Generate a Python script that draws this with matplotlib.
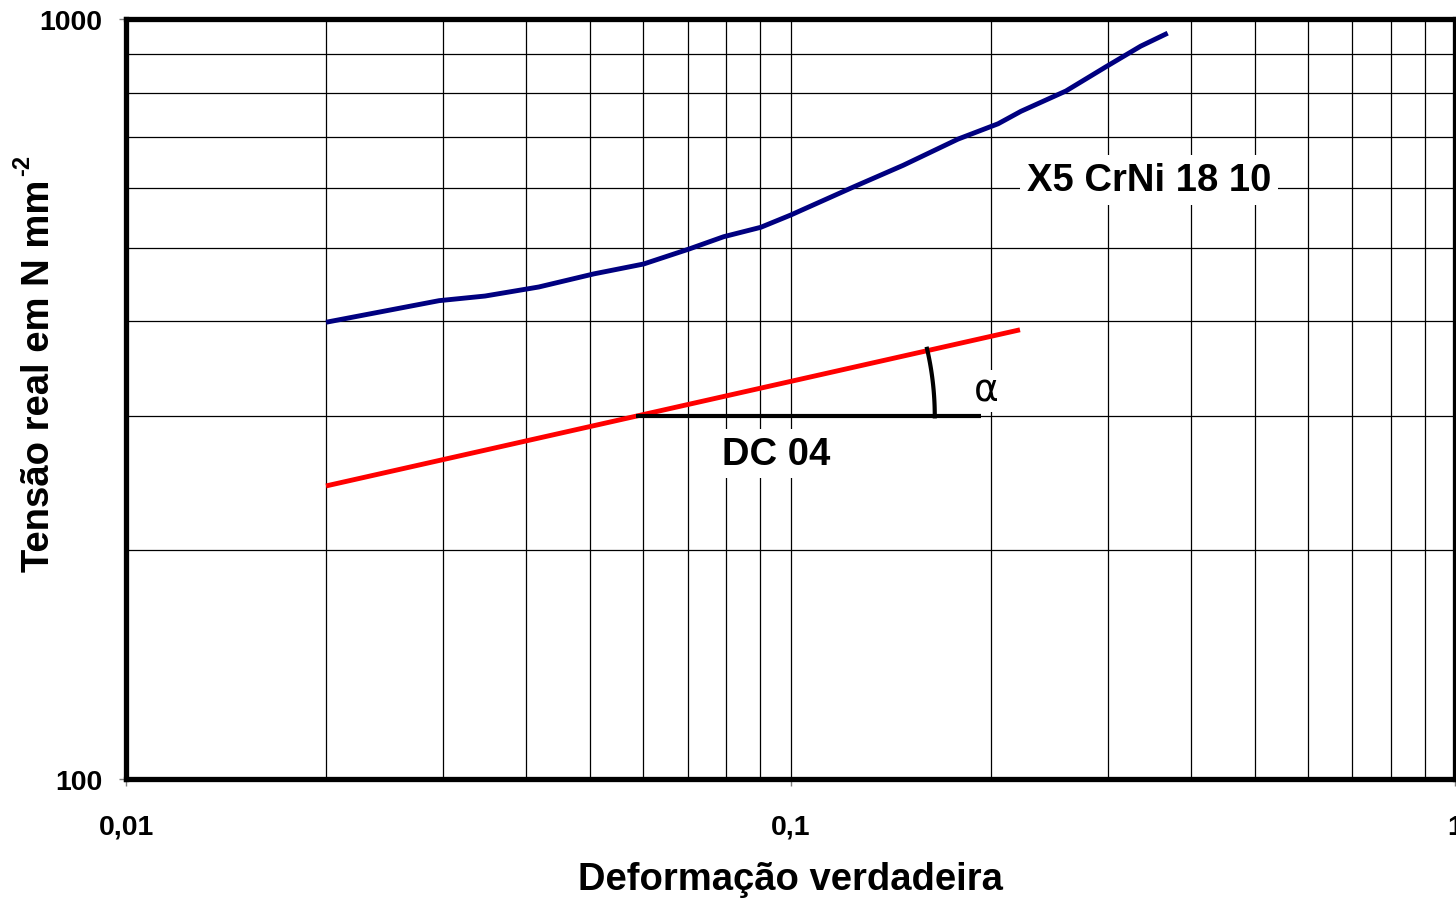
import numpy as np
import matplotlib
matplotlib.use('Agg')
import matplotlib.pyplot as plt
from matplotlib.ticker import NullFormatter

plt.rcParams['font.family'] = ['Liberation Sans', 'DejaVu Sans']

# Curves (true strain, true stress in N/mm2)
x5_strain = [0.02, 0.0296, 0.0347, 0.0418, 0.0506, 0.0601, 0.0703, 0.0793, 0.0902,
             0.1, 0.1243, 0.1478, 0.1787, 0.2053, 0.2222, 0.2597, 0.2982, 0.3365, 0.3695]
x5_stress = [399, 426, 432, 444, 462, 476, 498, 517, 532,
             552, 601, 642, 695, 728, 756, 804, 865, 921, 958]

dc04_strain = [0.02, 0.2215]
dc04_stress = [243, 390]

# horizontal reference line for the angle alpha
ref_strain = [0.0585, 0.1936]
ref_stress = [300, 300]

xticks = [0.01, 0.1, 1]
xticklabels = ['0,01', '0,1', '1']
yticks = [100, 1000]
yticklabels = ['100', '1000']

W, H = 1456, 904
fig = plt.figure(figsize=(W / 100, H / 100), dpi=100)
ax = fig.add_axes([126 / W, (H - 780) / H, 1329 / W, 760 / H])
ax.set_xscale('log')
ax.set_yscale('log')
ax.set_xlim(0.01, 1)
ax.set_ylim(100, 1000)

ax.grid(which='both', color='black', linewidth=0.9)
ax.set_axisbelow(True)

ax.plot(x5_strain, x5_stress, color='#000080', linewidth=3.5, solid_capstyle='butt')
ax.plot(dc04_strain, dc04_stress, color='#ff0000', linewidth=3.5, solid_capstyle='butt')
ax.plot(ref_strain, ref_stress, color='black', linewidth=3.0, solid_capstyle='butt')

# arc marking the angle, drawn in pixel space then mapped back to log data
px_x = 1329 / 2.0   # pixels per decade in x
px_y = 760 / 1.0    # pixels per decade in y
slope = (np.log10(dc04_stress[1]) - np.log10(dc04_stress[0])) / \
        (np.log10(dc04_strain[1]) - np.log10(dc04_strain[0]))
ang = np.arctan(slope * px_y / px_x)
t = np.linspace(0, ang * 1.03, 40)
R = 299
arc_x = ref_strain[0] * 10 ** (R * np.cos(t) / px_x)
arc_y = ref_stress[0] * 10 ** (R * np.sin(t) / px_y)
ax.plot(arc_x, arc_y, color='black', linewidth=3.0)

box = dict(facecolor='white', edgecolor='none', pad=5)
ax.text(0.3465, 614, 'X5 CrNi 18 10', fontsize=27.5, fontweight='bold',
        ha='center', va='center', bbox=box)
ax.text(0.0953, 268, 'DC 04', fontsize=27.5, fontweight='bold',
        ha='center', va='center', bbox=box)
ax.text(0.197, 324, 'α', fontsize=27, ha='center', va='center',
        family='DejaVu Sans', bbox=dict(facecolor='white', edgecolor='none', pad=2))

ax.set_xticks(xticks)
ax.set_xticklabels(xticklabels)
ax.set_yticks(yticks)
ax.set_yticklabels(yticklabels)
ax.xaxis.set_minor_formatter(NullFormatter())
ax.yaxis.set_minor_formatter(NullFormatter())
ax.tick_params(which='minor', length=0)
ax.tick_params(which='major', length=5, width=1, color='gray', labelsize=20.5)
ax.tick_params(axis='x', pad=20)
ax.tick_params(axis='y', pad=12)
for lab in ax.get_xticklabels() + ax.get_yticklabels():
    lab.set_fontweight('bold')

for s in ax.spines.values():
    s.set_linewidth(3.8)
    s.set_color('black')

ax.set_xlabel('Deformação verdadeira', fontsize=27.5, fontweight='bold')
ax.xaxis.set_label_coords(0.5, -0.108)
ax.set_ylabel('Tensão real em N mm', fontsize=27.5, fontweight='bold', va='center')
ax.yaxis.set_label_coords(-0.0655, 0.5316)
ax.text(-0.0775, 0.809, '-2', transform=ax.transAxes, rotation=90, fontsize=17,
        fontweight='bold', ha='center', va='center', clip_on=False)

fig.savefig('out.png', dpi=100)
